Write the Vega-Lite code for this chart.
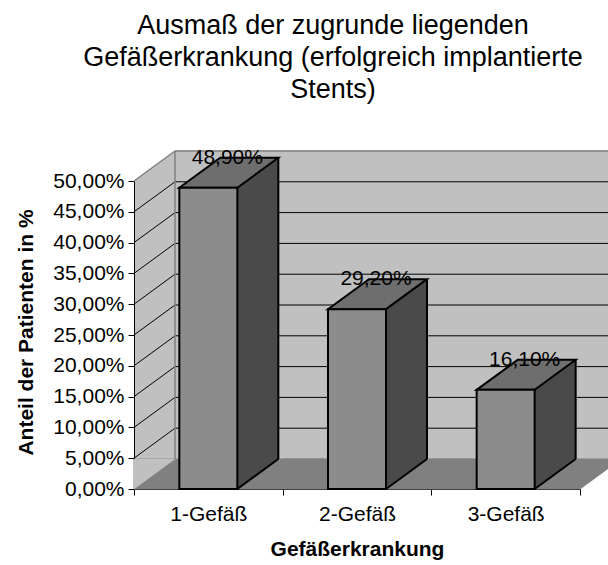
{
  "$schema": "https://vega.github.io/schema/vega-lite/v6.json",
  "autosize": "none",
  "width": 446,
  "height": 308,
  "padding": {"left": 134, "top": 181, "right": 28, "bottom": 76},
  "background": "white",
  "config": {
    "font": "Liberation Sans",
    "view": {"fill": "#c0c0c0", "stroke": null},
    "locale": {"number": {"decimal": ",", "thousands": ".", "grouping": [3], "currency": ["", " €"]}},
    "axis": {"labelFont": "Liberation Sans", "titleFont": "Liberation Sans", "labelColor": "black", "titleColor": "black", "domainColor": "black", "tickColor": "black", "grid": false},
    "axisY": {"labelOverlap": false, "labelBound": false}
  },
  "title": {
    "text": ["Ausmaß der zugrunde liegenden", "Gefäßerkrankung (erfolgreich implantierte", "Stents)"],
    "font": "Liberation Sans",
    "fontSize": 27,
    "fontWeight": "normal",
    "color": "black",
    "lineHeight": 32,
    "anchor": "middle",
    "baseline": "alphabetic",
    "dx": -24,
    "offset": 22
  },
  "datasets": {
    "bars": [
      {"Kategorie": "1-Gefäß", "Anteil": 0.489},
      {"Kategorie": "2-Gefäß", "Anteil": 0.292},
      {"Kategorie": "3-Gefäß", "Anteil": 0.161}
    ],
    "levels": [
      {"level": 0.05}, {"level": 0.1}, {"level": 0.15}, {"level": 0.2}, {"level": 0.25},
      {"level": 0.3}, {"level": 0.35}, {"level": 0.4}, {"level": 0.45}, {"level": 0.5}
    ]
  },
  "data": {"name": "bars"},
  "layer": [
    {
      "mark": {"type": "bar", "fill": "#c0c0c0", "stroke": "#c0c0c0", "strokeWidth": 1, "width": {"band": 1}, "xOffset": 41, "yOffset": -30, "y2Offset": -30},
      "encoding": {
        "x": {"field": "Kategorie", "type": "nominal", "title": "Gefäßerkrankung",
              "scale": {"domain": ["1-Gefäß", "2-Gefäß", "3-Gefäß"], "paddingInner": 0, "paddingOuter": 0},
              "axis": {"tickBand": "extent", "labelAngle": 0, "tickSize": 6, "labelFontSize": 21, "labelPadding": 8,
                       "titleFontSize": 21, "titleFontWeight": "bold", "titleBaseline": "alphabetic", "titleY": 66}},
        "y": {"datum": 0.5, "type": "quantitative", "title": "Anteil der Patienten in %",
              "scale": {"domain": [0, 0.5], "nice": false, "zero": true}},
        "y2": {"datum": 0}
      }
    },
    {
      "mark": {"type": "bar", "fill": "#808080", "stroke": "#808080", "strokeWidth": 1, "width": {"band": 1}, "yOffset": -30},
      "encoding": {
        "x": {"field": "Kategorie", "type": "nominal", "title": "Gefäßerkrankung"},
        "y": {"datum": 0, "type": "quantitative", "title": "Anteil der Patienten in %"},
        "y2": {"datum": 0}
      }
    },
    {
      "mark": {"type": "point", "shape": "M0,0 L0,-30 L41,-30 Z", "size": 4, "filled": true, "fill": "#808080", "stroke": "#808080", "strokeWidth": 1, "opacity": 1},
      "encoding": {
        "x": {"field": "Kategorie", "type": "nominal", "bandPosition": 1, "title": "Gefäßerkrankung"},
        "y": {"datum": 0, "type": "quantitative", "title": "Anteil der Patienten in %"}
      }
    },
    {
      "transform": [{"filter": "datum.Kategorie === '1-Gefäß'"}],
      "mark": {"type": "point", "shape": "M0,0 L0,-30 L41,-30 Z", "size": 4, "filled": true, "fill": "#c0c0c0", "stroke": "#c0c0c0", "strokeWidth": 0.5, "opacity": 1},
      "encoding": {
        "x": {"field": "Kategorie", "type": "nominal", "bandPosition": 0, "title": "Gefäßerkrankung"},
        "y": {"datum": 0, "type": "quantitative", "title": "Anteil der Patienten in %"}
      }
    },
    {
      "transform": [{"filter": "datum.Kategorie === '1-Gefäß'"}],
      "mark": {"type": "point", "shape": "M0,0 L41,-30 L41,0 Z", "size": 4, "filled": true, "fill": "#c0c0c0", "stroke": "#c0c0c0", "strokeWidth": 0.5, "opacity": 1},
      "encoding": {
        "x": {"field": "Kategorie", "type": "nominal", "bandPosition": 0, "title": "Gefäßerkrankung"},
        "y": {"datum": 0.5, "type": "quantitative", "title": "Anteil der Patienten in %"}
      }
    },
    {
      "data": {"name": "levels"},
      "transform": [{"filter": "datum.level < 0.49"}],
      "mark": {"type": "rule", "color": "black", "strokeWidth": 1, "xOffset": 41, "x2Offset": 41, "yOffset": -30},
      "encoding": {
        "x": {"datum": "1-Gefäß", "type": "nominal", "bandPosition": 0},
        "x2": {"datum": "3-Gefäß", "bandPosition": 1},
        "y": {"field": "level", "type": "quantitative", "title": "Anteil der Patienten in %"}
      }
    },
    {
      "data": {"name": "levels"},
      "transform": [{"filter": "datum.level < 0.49"}],
      "mark": {"type": "rule", "color": "black", "strokeWidth": 1, "x2Offset": 41, "y2Offset": -30},
      "encoding": {
        "x": {"datum": "1-Gefäß", "type": "nominal", "bandPosition": 0},
        "x2": {"datum": "1-Gefäß", "bandPosition": 0},
        "y": {"field": "level", "type": "quantitative", "title": "Anteil der Patienten in %"},
        "y2": {"field": "level"}
      }
    },
    {
      "data": {"name": "levels"},
      "transform": [{"filter": "datum.level > 0.49"}],
      "mark": {"type": "rule", "color": "#808080", "strokeWidth": 1.5, "xOffset": 41, "x2Offset": 41, "yOffset": -30},
      "encoding": {
        "x": {"datum": "1-Gefäß", "type": "nominal", "bandPosition": 0},
        "x2": {"datum": "3-Gefäß", "bandPosition": 1},
        "y": {"field": "level", "type": "quantitative", "title": "Anteil der Patienten in %"}
      }
    },
    {
      "data": {"name": "levels"},
      "transform": [{"filter": "datum.level > 0.49"}],
      "mark": {"type": "rule", "color": "#808080", "strokeWidth": 1.5, "x2Offset": 41, "y2Offset": -30},
      "encoding": {
        "x": {"datum": "1-Gefäß", "type": "nominal", "bandPosition": 0},
        "x2": {"datum": "1-Gefäß", "bandPosition": 0},
        "y": {"field": "level", "type": "quantitative", "title": "Anteil der Patienten in %"},
        "y2": {"field": "level"}
      }
    },
    {
      "data": {"name": "levels"},
      "transform": [{"filter": "datum.level > 0.49"}],
      "mark": {"type": "rule", "color": "#808080", "strokeWidth": 1.5, "xOffset": 41, "yOffset": -30, "y2Offset": -30},
      "encoding": {
        "x": {"datum": "1-Gefäß", "type": "nominal", "bandPosition": 0},
        "y": {"field": "level", "type": "quantitative", "title": "Anteil der Patienten in %"},
        "y2": {"datum": 0}
      }
    },
    {
      "mark": {"type": "bar", "fill": "#4a4a4a", "width": 41, "xOffset": 49.5, "yOffset": -30, "y2Offset": -30},
      "encoding": {
        "x": {"field": "Kategorie", "type": "nominal", "title": "Gefäßerkrankung"},
        "y": {"field": "Anteil", "type": "quantitative", "title": "Anteil der Patienten in %"},
        "y2": {"datum": 0}
      }
    },
    {
      "mark": {"type": "point", "shape": "M29,0 L70,-30 L29,-30 Z", "size": 4, "filled": true, "fill": "#4a4a4a", "stroke": "#4a4a4a", "strokeWidth": 1, "opacity": 1},
      "encoding": {
        "x": {"field": "Kategorie", "type": "nominal", "title": "Gefäßerkrankung"},
        "y": {"datum": 0, "type": "quantitative", "title": "Anteil der Patienten in %"}
      }
    },
    {
      "mark": {"type": "rule", "color": "black", "strokeWidth": 2, "xOffset": 70, "yOffset": -30, "y2Offset": -30},
      "encoding": {
        "x": {"field": "Kategorie", "type": "nominal", "title": "Gefäßerkrankung"},
        "y": {"field": "Anteil", "type": "quantitative", "title": "Anteil der Patienten in %"},
        "y2": {"datum": 0}
      }
    },
    {
      "mark": {"type": "point", "shape": "M-29,0 L29,0 L70,-30 L12,-30 Z", "size": 4, "filled": true, "fill": "#6e6e6e", "stroke": "black", "strokeWidth": 2, "strokeJoin": "miter", "opacity": 1},
      "encoding": {
        "x": {"field": "Kategorie", "type": "nominal", "title": "Gefäßerkrankung"},
        "y": {"field": "Anteil", "type": "quantitative", "title": "Anteil der Patienten in %"}
      }
    },
    {
      "mark": {"type": "bar", "fill": "#8c8c8c", "stroke": "black", "strokeWidth": 2, "width": 58},
      "encoding": {
        "x": {"field": "Kategorie", "type": "nominal", "title": "Gefäßerkrankung"},
        "y": {"field": "Anteil", "type": "quantitative", "title": "Anteil der Patienten in %",
              "axis": {"values": [0, 0.05, 0.1, 0.15, 0.2, 0.25, 0.3, 0.35, 0.4, 0.45, 0.5], "tickCount": 11, "format": ".2%",
                       "labelOverlap": false, "labelBound": false,
                       "tickSize": 6, "labelFontSize": 21, "labelPadding": 4,
                       "titleFontSize": 21, "titleFontWeight": "bold", "titleAngle": -90, "titleBaseline": "alphabetic",
                       "titleAlign": "center", "titleX": -102, "titleY": 151}},
        "y2": {"datum": 0}
      }
    },
    {
      "mark": {"type": "point", "shape": "M29,0 L70,-30", "size": 4, "filled": false, "stroke": "black", "strokeWidth": 2, "opacity": 1},
      "encoding": {
        "x": {"field": "Kategorie", "type": "nominal", "title": "Gefäßerkrankung"},
        "y": {"datum": 0, "type": "quantitative", "title": "Anteil der Patienten in %"}
      }
    },
    {
      "mark": {"type": "text", "dx": 19, "dy": -24, "baseline": "alphabetic", "align": "center", "fontSize": 21, "font": "Liberation Sans", "color": "black"},
      "encoding": {
        "x": {"field": "Kategorie", "type": "nominal", "title": "Gefäßerkrankung"},
        "y": {"field": "Anteil", "type": "quantitative", "title": "Anteil der Patienten in %"},
        "text": {"field": "Anteil", "type": "quantitative", "format": ".2%"}
      }
    }
  ]
}
